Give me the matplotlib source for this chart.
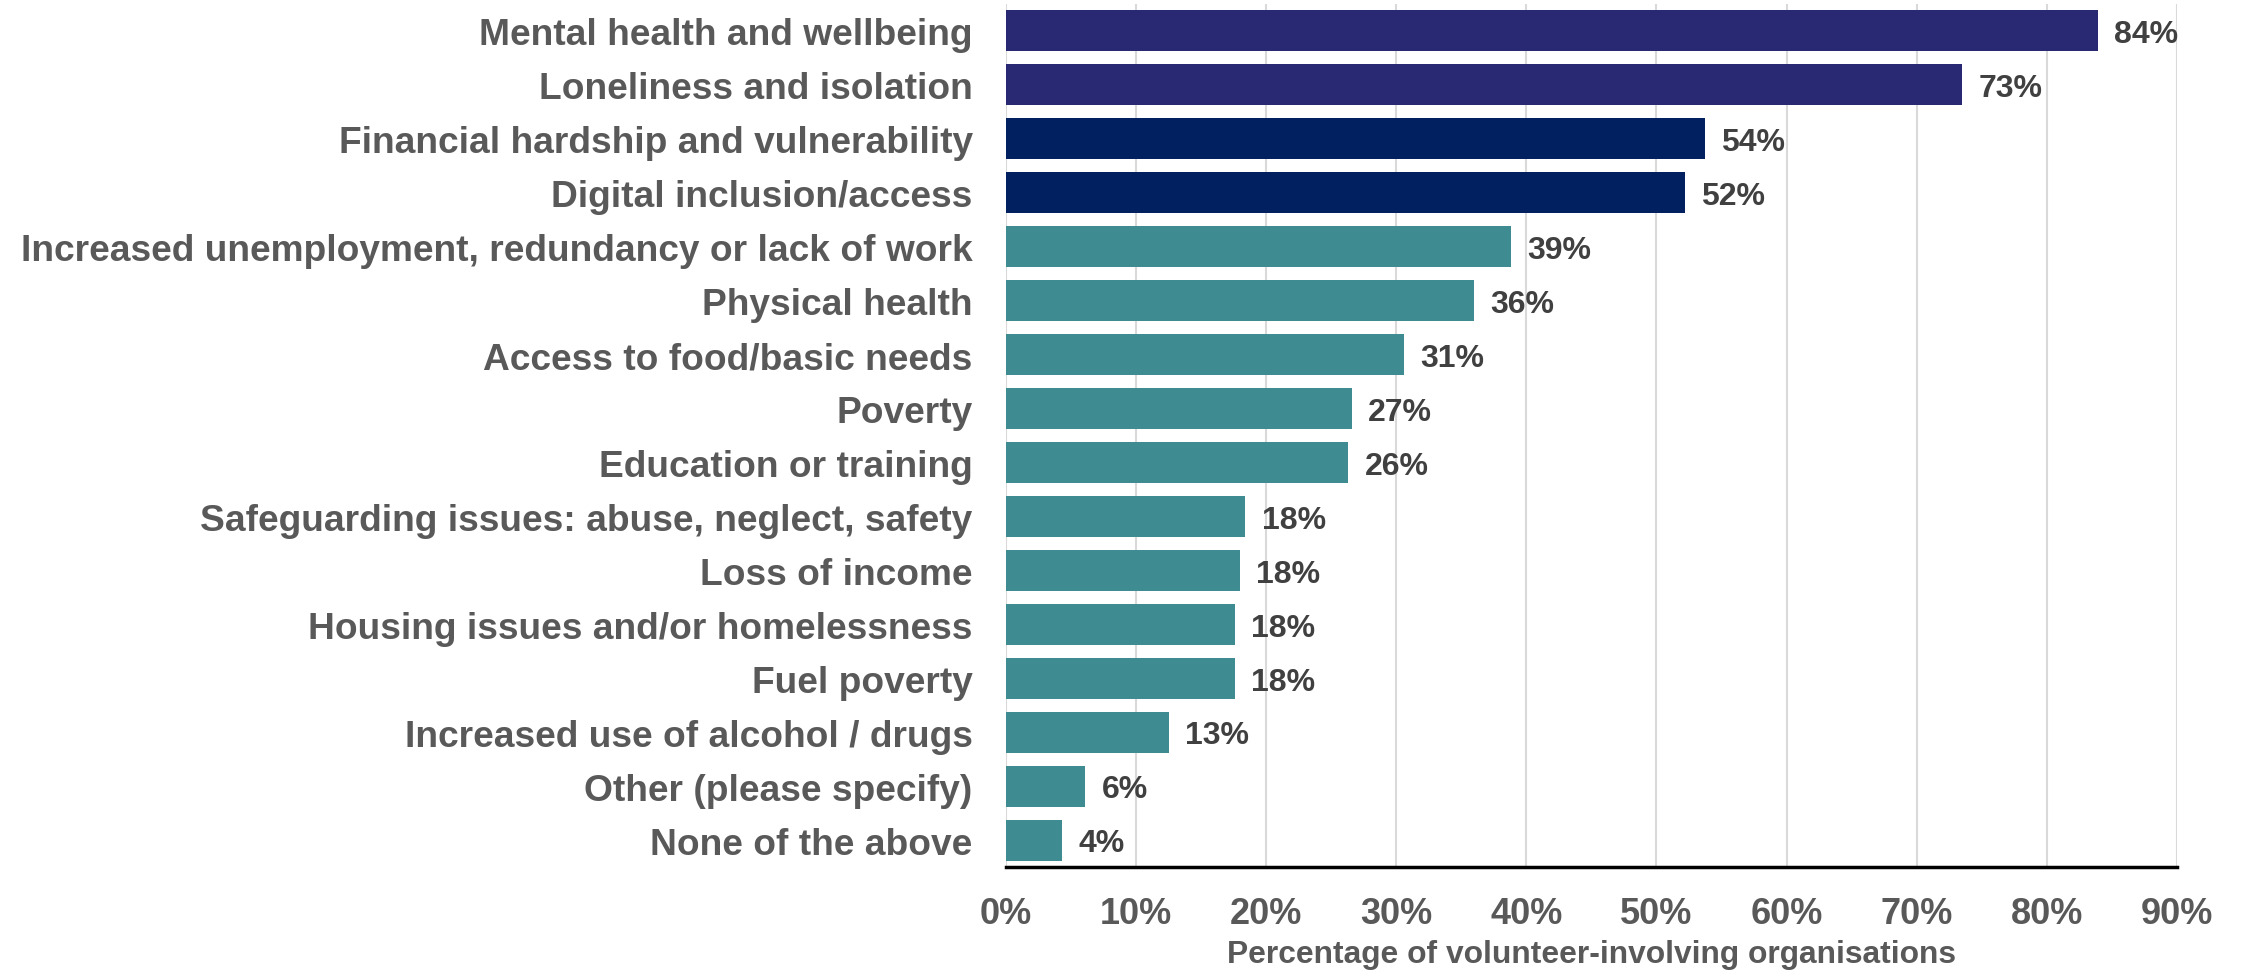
import matplotlib.pyplot as plt
import numpy as np

# Categories (top to bottom) and values in percent
categories = [
    "Mental health and wellbeing",
    "Loneliness and isolation",
    "Financial hardship and vulnerability",
    "Digital inclusion/access",
    "Increased unemployment, redundancy or lack of work",
    "Physical health",
    "Access to food/basic needs",
    "Poverty",
    "Education or training",
    "Safeguarding issues: abuse, neglect, safety",
    "Loss of income",
    "Housing issues and/or homelessness",
    "Fuel poverty",
    "Increased use of alcohol / drugs",
    "Other (please specify)",
    "None of the above",
]
values = [83.9, 73.5, 53.7, 52.2, 38.8, 36.0, 30.6, 26.6, 26.3, 18.4, 18.0, 17.6, 17.6, 12.5, 6.1, 4.3]
labels = ["84%", "73%", "54%", "52%", "39%", "36%", "31%", "27%", "26%",
          "18%", "18%", "18%", "18%", "13%", "6%", "4%"]
groups = [0, 0, 1, 1] + [2] * 12
group_colors = ["#282873", "#00205F", "#3E8C91"]

plt.rcParams['font.family'] = ['Liberation Sans', 'DejaVu Sans']

fig = plt.figure(figsize=(22.44, 9.78), dpi=100)
ax = fig.add_axes([0.4483, 0.1125, 0.5218, 0.8824])

y = np.arange(len(categories))
colors = [group_colors[g] for g in groups]
bars = ax.barh(y, values, height=0.76, color=colors, zorder=3)

# value labels: baseline placed so the caps sit centred on the bar
for b, lab in zip(bars, labels):
    ax.text(b.get_width() + 1.25, b.get_y() + b.get_height() / 2 + 0.21, lab,
            va='baseline', ha='left', fontsize=23, fontweight='bold', color='#404040')

ax.set_ylim(len(categories) - 0.5, -0.5)
ax.set_yticks(y)
ax.set_yticklabels(categories, fontsize=26.7, fontweight='bold', color='#595959')

ax.set_xlim(0, 90)
ax.set_xticks(np.arange(0, 91, 10))
ax.set_xticklabels([f"{v}%" for v in range(0, 91, 10)], fontsize=26,
                   fontweight='bold', color='#595959')
ax.set_xlabel("Percentage of volunteer-involving organisations", fontsize=22.9,
              fontweight='bold', color='#595959', labelpad=6)

ax.tick_params(axis='y', length=0, pad=24)
ax.tick_params(axis='x', length=0, pad=21)
ax.grid(axis='x', color='#D9D9D9', linewidth=1.5, zorder=0)
for s in ['top', 'right', 'left']:
    ax.spines[s].set_visible(False)
ax.spines['bottom'].set_color('black')
ax.spines['bottom'].set_linewidth(2.5)
ax.spines['bottom'].set_zorder(4)

fig.savefig("out.png", dpi=100)
